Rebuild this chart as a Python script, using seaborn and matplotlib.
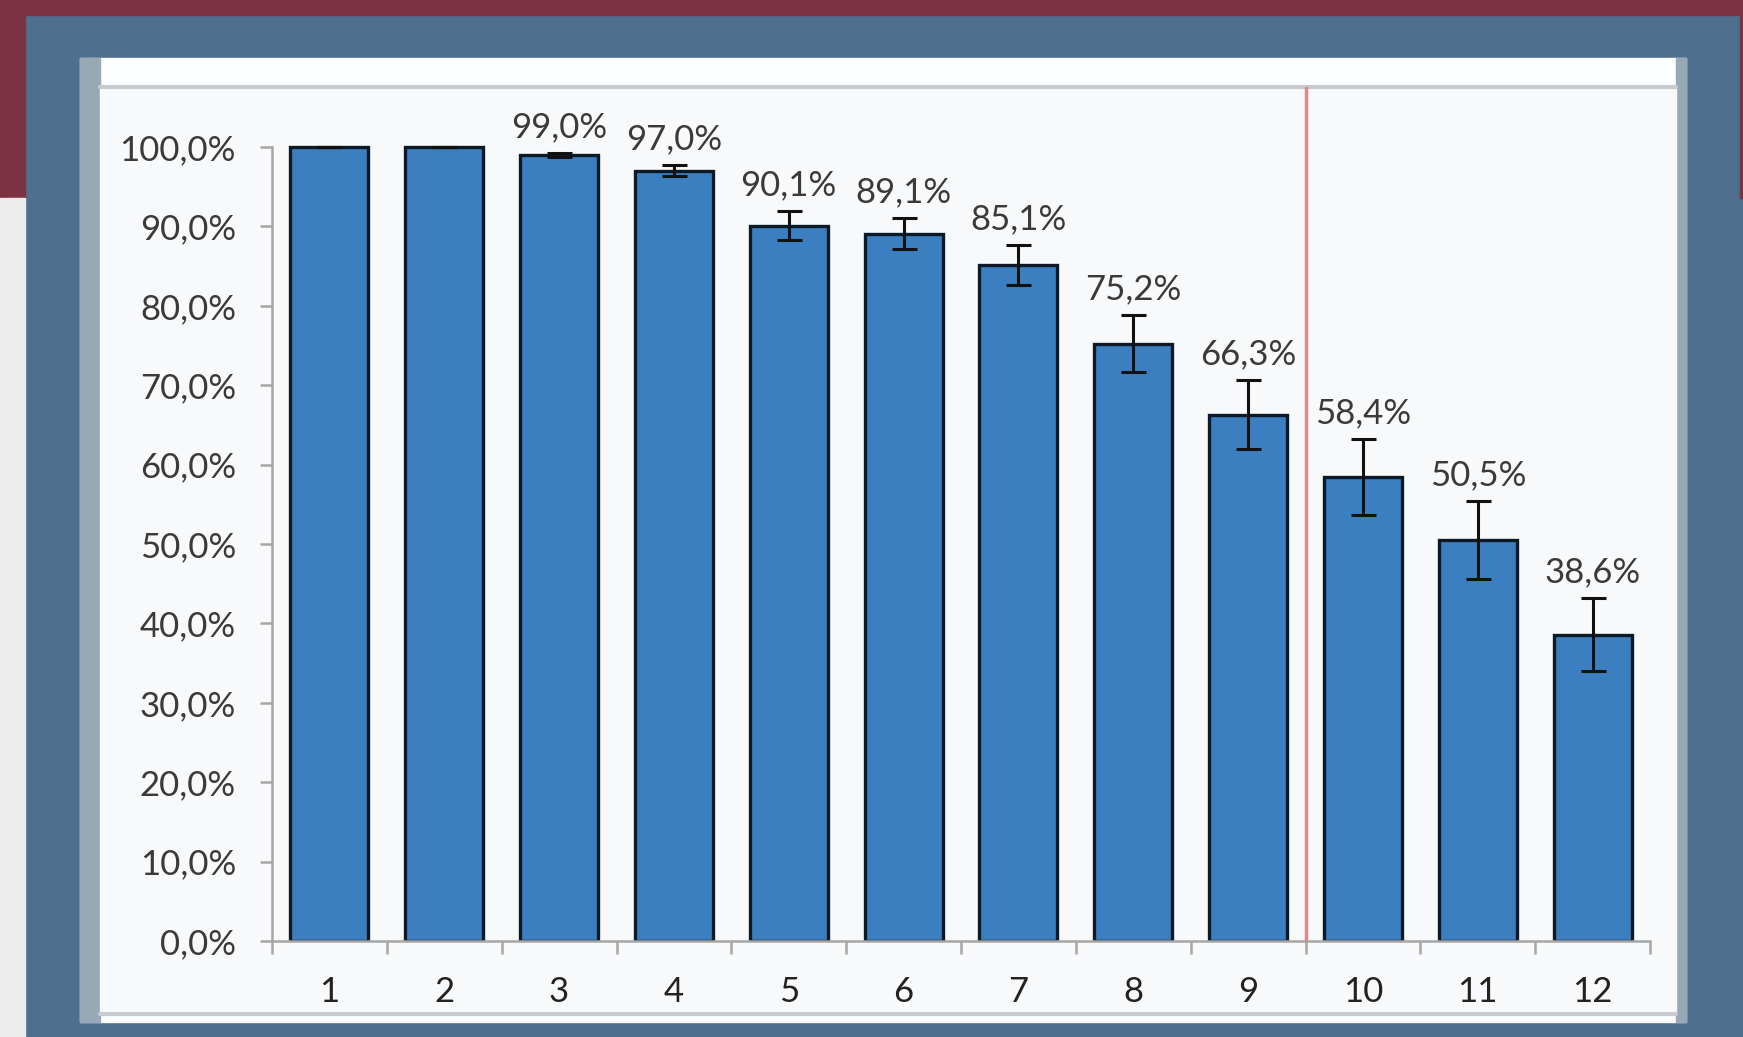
import matplotlib
matplotlib.use("Agg")
import matplotlib.pyplot as plt
from matplotlib.patches import Rectangle
from matplotlib.lines import Line2D
from matplotlib.ticker import FuncFormatter, FixedLocator
import seaborn as sns
import pandas as pd

categories = ["1", "2", "3", "4", "5", "6", "7", "8", "9", "10", "11", "12"]
values = [100.0, 100.0, 99.0, 97.0, 90.1, 89.1, 85.1, 75.2, 66.3, 58.4, 50.5, 38.6]
errors = [0.0, 0.0, 0.3, 0.7, 1.8, 2.0, 2.5, 3.6, 4.3, 4.8, 4.9, 4.6]
labels = ["", "", "99,0%", "97,0%", "90,1%", "89,1%", "85,1%", "75,2%", "66,3%", "58,4%", "50,5%", "38,6%"]
split_after = 9  # red divider between category 9 and 10

df = pd.DataFrame({"cat": categories, "val": values})

sns.set_style("white")
plt.rcParams["font.family"] = ["Lato", "DejaVu Sans"]

W, H = 1743, 1037
fig = plt.figure(figsize=(W / 100, H / 100), dpi=100, facecolor="#4e6f8e")

def box(x0, y0, x1, y1, color):
    # pixel coords from top-left
    fig.patches.append(Rectangle((x0 / W, 1 - y1 / H), (x1 - x0) / W, (y1 - y0) / H,
                                 transform=fig.transFigure, color=color, zorder=-2))

# slide background pieces
box(0, 0, W, 15, "#7b3344")
box(0, 0, 25, 198, "#7b3344")
box(0, 198, 25, H, "#ececec")
box(W - 3, 0, W, 198, "#7b3344")
# chart panel
box(80, 58, 1686, 1022, "#fdfeff")
box(80, 58, 100, 1022, "#98a8b6")
box(1676, 58, 1686, 1022, "#98a8b6")
box(100, 87, 1676, 1014, "#f8f9fa")
for yy in (87, 1014):
    fig.lines.append(Line2D([100 / W, 1676 / W], [1 - yy / H, 1 - yy / H], transform=fig.transFigure,
                            color="#c8cbce", lw=3, zorder=-1))

ax = fig.add_axes([272 / W, 1 - 941 / H, (1650 - 272) / W, (941 - 87) / H])
ax.set_zorder(5)
ax.set_facecolor("none")

sns.barplot(data=df, x="cat", y="val", color="#3b7fc0", saturation=1, width=0.68,
            edgecolor="#0c1a28", linewidth=2.4, errorbar=None, ax=ax, zorder=2)
ax.errorbar(range(len(values)), values, yerr=errors, fmt="none", ecolor="#111111",
            elinewidth=2.2, capsize=9, capthick=2.2, zorder=3)

ymax = 100 * (941 - 87) / (941 - 147)
ax.set_ylim(0, ymax)
ax.set_xlim(-0.5, len(values) - 0.5)

for i, (v, e, t) in enumerate(zip(values, errors, labels)):
    if t:
        ax.annotate(t, (i, v + e), xytext=(0, 7), textcoords="offset points",
                    ha="center", va="bottom", fontsize=25, color="#3a3a3a")

ax.axvline(split_after - 0.5, color="#d98a8f", lw=2.5, zorder=4)

ax.yaxis.set_major_locator(FixedLocator([0, 10, 20, 30, 40, 50, 60, 70, 80, 90, 100]))
ax.yaxis.set_major_formatter(FuncFormatter(lambda v, p: f"{v:.1f}%".replace(".", ",")))
ax.xaxis.set_minor_locator(FixedLocator([i - 0.5 for i in range(len(values) + 1)]))

for s in ["top", "right"]:
    ax.spines[s].set_visible(False)
ax.spines["left"].set_bounds(0, 100)
for s in ["left", "bottom"]:
    ax.spines[s].set_color("#a6a6a6")
    ax.spines[s].set_linewidth(1.8)

ax.tick_params(axis="y", which="major", length=9, width=1.8, color="#a6a6a6",
               labelsize=25, labelcolor="#3a3a3a", pad=17, direction="out", left=True)
ax.tick_params(axis="x", which="major", length=0, labelsize=25, labelcolor="#222222", pad=25)
ax.tick_params(axis="x", which="minor", length=9, width=1.8, color="#a6a6a6", direction="out", bottom=True)
ax.set_xlabel("")
ax.set_ylabel("")

fig.savefig("out.png", dpi=100, facecolor=fig.get_facecolor())
